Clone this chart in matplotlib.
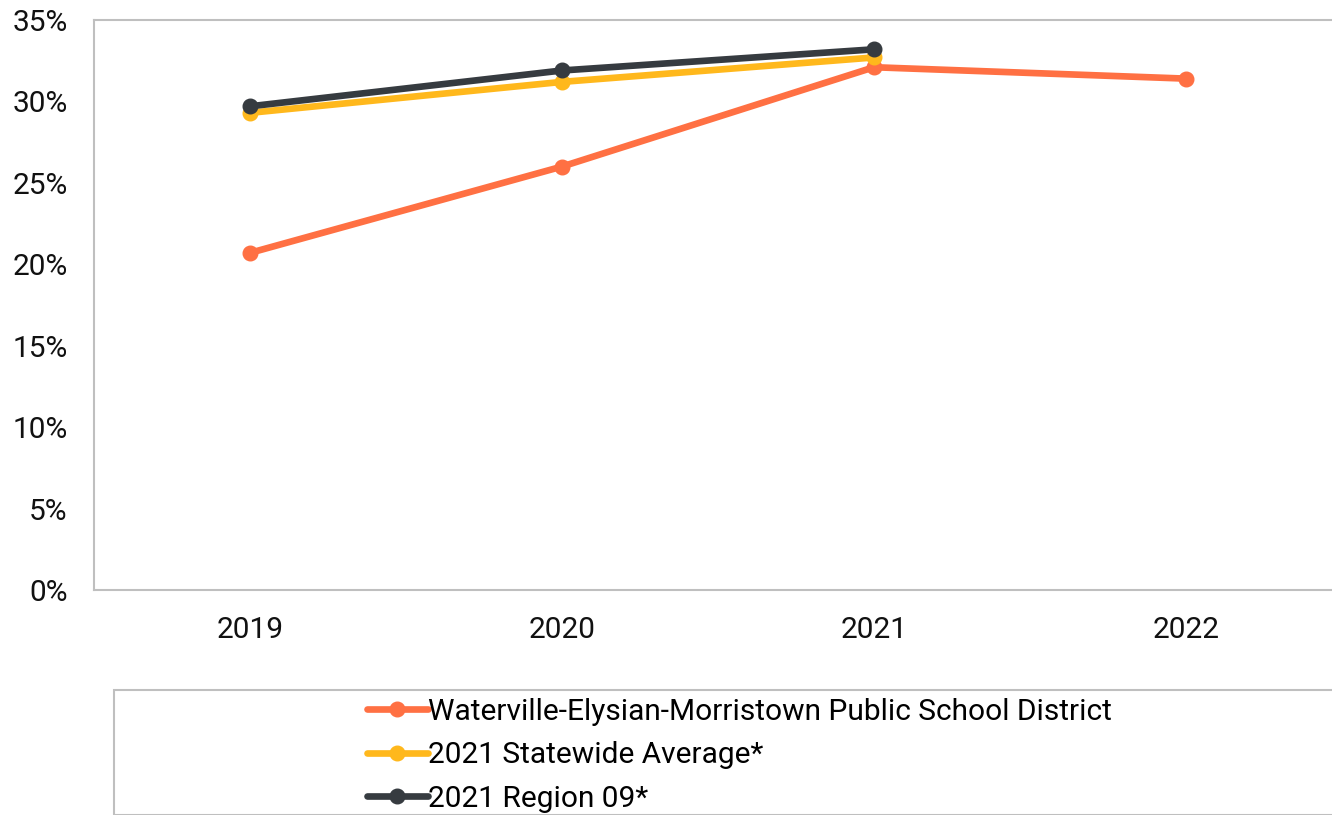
import matplotlib
matplotlib.use("Agg")
import matplotlib.pyplot as plt
from matplotlib.patches import Rectangle

plt.rcParams['font.family'] = ['Roboto', 'DejaVu Sans']

years = ["2019", "2020", "2021", "2022"]
district = [20.7, 26.0, 32.1, 31.4]
statewide = [29.3, 31.2, 32.7]
region = [29.7, 31.9, 33.2]
series_labels = ["Waterville-Elysian-Morristown Public School District",
                 "2021 Statewide Average*",
                 "2021 Region 09*"]
colors = ["#FF7043", "#FFB81C", "#363B40"]
yticks = [0, 5, 10, 15, 20, 25, 30, 35]

W, H = 1332, 815
fig = plt.figure(figsize=(W / 100, H / 100), dpi=100)
ax = fig.add_axes([94 / W, (H - 590) / H, 1248 / W, 570 / H])

x_all = list(range(len(years)))
for vals, lab, c in zip([district, statewide, region], series_labels, colors):
    ax.plot(x_all[:len(vals)], vals, color=c, lw=4.8, marker='o', ms=10.5,
            label=lab, solid_capstyle='round')

ax.set_xlim(-0.5, 3.5)
ax.set_ylim(0, 35)
ax.set_xticks(x_all)
ax.set_xticklabels(years)
ax.set_yticks(yticks)
ax.set_yticklabels([f"{v}%" for v in yticks])
ax.tick_params(axis='both', length=0, labelsize=21.5, colors='#111111')
ax.tick_params(axis='y', pad=19)
ax.tick_params(axis='x', pad=19)
for s in ax.spines.values():
    s.set_color('#BFBFBF')
    s.set_linewidth(1.5)

# legend frame
rect = Rectangle((114 / W, 0), 1.2, (H - 690) / H, transform=fig.transFigure,
                 fill=False, edgecolor='#BFBFBF', lw=1.5)
fig.add_artist(rect)

leg = fig.legend(loc='upper left', bbox_to_anchor=(343 / W, 1 - 674 / H),
                 frameon=False, fontsize=21.5, handlelength=2.05,
                 handletextpad=0.0, labelspacing=0.52, borderpad=0.3)

fig.savefig("out.png", dpi=100)
